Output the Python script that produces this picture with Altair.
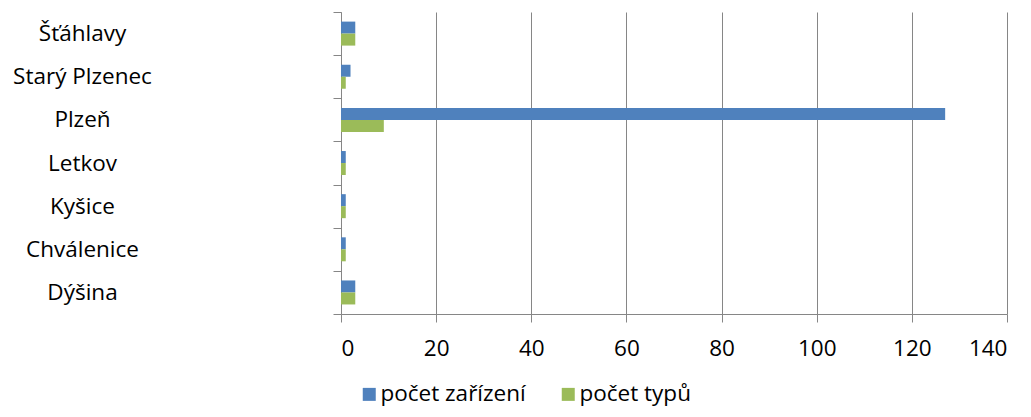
import altair as alt
import pandas as pd

obce = ["Šťáhlavy", "Starý Plzenec", "Plzeň", "Letkov", "Kyšice", "Chválenice", "Dýšina"]
pocet_zarizeni = [3, 2, 127, 1, 1, 1, 3]
pocet_typu = [3, 1, 9, 1, 1, 1, 3]
serie = ["počet zařízení", "počet typů"]
barvy = ["#4F81BD", "#9BBB59"]

rows = []
for o, a, b in zip(obce, pocet_zarizeni, pocet_typu):
    rows.append({"obec": o, "serie": serie[0], "hodnota": a})
    rows.append({"obec": o, "serie": serie[1], "hodnota": b})
df = pd.DataFrame(rows)

font = "Open Sans"
fs = 22.5
gray = "#868686"

chart = alt.Chart(df).mark_bar().encode(
    y=alt.Y("obec:N", sort=obce, title=None,
            scale=alt.Scale(paddingInner=0, paddingOuter=0),
            axis=alt.Axis(tickBand="extent", tickSize=8, tickColor=gray,
                          domainColor=gray, labelAlign="center",
                          labelPadding=251, labelFontSize=fs, labelFont=font,
                          labelColor="#000000", grid=False)),
    yOffset=alt.YOffset("serie:N", sort=serie,
                        scale=alt.Scale(paddingInner=0, paddingOuter=0, range=[9.6, 33.6])),
    x=alt.X("hodnota:Q", title=None,
            scale=alt.Scale(domain=[0, 140], nice=False),
            axis=alt.Axis(values=list(range(0, 141, 20)), tickSize=8,
                          tickColor=gray, domainColor=gray,
                          gridColor=gray, labelFontSize=fs, labelFont=font,
                          labelColor="#000000", labelPadding=15)),
    color=alt.Color("serie:N", sort=serie,
                    scale=alt.Scale(domain=serie, range=barvy),
                    legend=alt.Legend(title=None, orient="none", direction="horizontal",
                                      legendX=17, legendY=371, symbolType="square",
                                      symbolSize=169, symbolStrokeWidth=0,
                                      labelFontSize=fs, labelFont=font,
                                      labelColor="#000000", columnPadding=31,
                                      labelOffset=0)),
).properties(
    width=666, height=302,
    autosize=alt.AutoSizeParams(type="none"),
    padding={"left": 333, "top": 4, "right": 16, "bottom": 95},
).configure_view(stroke=None)

chart.save("out.html", embed_options={"renderer": "svg", "actions": False})
